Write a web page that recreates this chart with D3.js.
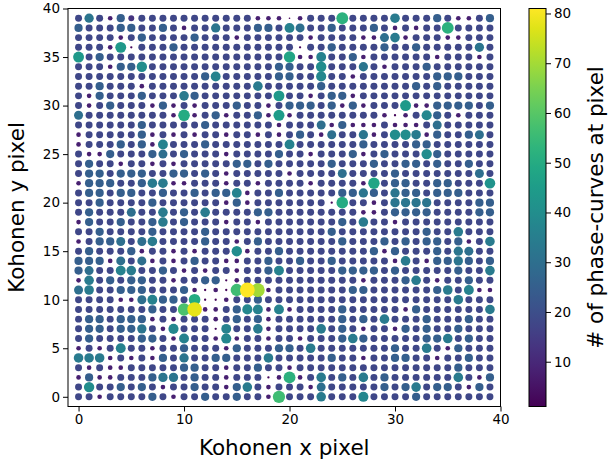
<!DOCTYPE html>
<html>
<head>
<meta charset="utf-8">
<script src="https://cdn.jsdelivr.net/npm/d3@7"></script>
<style>
  html, body { margin: 0; padding: 0; background: #fff; }
  svg { display: block; font-family: "DejaVu Sans", sans-serif; }
</style>
</head>
<body>
<svg id="chart" width="608" height="463"></svg>
<script>
// Kohonen map: number of phase-curves assigned to each pixel of a 40x40 grid.
// Rows run from y = 39 (first) down to y = 0 (last); columns are x = 0..39.
const xPixels = d3.range(40);
const yPixels = d3.range(39, -1, -1);

const countsByRow = [
  [18,32,18,8,25,13,18,18,18,18,18,18,18, 18,18,18,18,8,8,8,1,8,18,18,18,52, 18,18,18,18,34,18,18,18,25,18,8,8,18,25],
  [25,18,18,18,25,25,18,18,25,18,8,18,18, 32,18,18,18,25,25,18,36,30,18,18,25,18, 18,18,25,18,8,18,8,18,18,52,18,18,18,18],
  [18,18,18,18,8,18,25,18,18,18,18,25,18, 18,18,8,18,18,18,18,18,18,8,18,18,18, 18,8,8,30,34,8,18,18,18,8,8,18,18,18],
  [18,18,18,8,44,2,18,18,18,25,18,18,18, 18,18,18,18,18,18,18,18,2,18,18,25,18, 18,18,18,25,18,18,25,18,18,18,18,18,32,18],
  [44,18,25,18,18,18,18,18,18,18,18,18,18, 18,18,18,18,18,18,18,48,8,8,36,18,18, 25,8,18,18,18,18,18,18,8,18,18,18,8,18],
  [18,18,18,8,25,25,40,18,18,18,18,18,18, 18,18,18,18,18,18,25,25,18,18,40,18,18, 18,32,18,8,18,18,18,25,18,18,18,18,18,18],
  [18,18,18,18,18,18,18,18,18,18,18,18,25, 36,18,18,18,18,18,25,25,18,18,38,18,18, 8,18,18,18,18,18,18,18,25,25,25,18,18,18],
  [18,18,25,18,18,18,8,18,18,18,18,18,18, 18,18,18,18,34,18,18,18,18,18,25,18,18, 18,18,18,18,18,18,25,18,25,18,18,18,18,18],
  [18,8,25,18,18,18,25,18,18,18,34,25,18, 18,18,18,18,18,18,44,18,18,8,18,25,25, 8,18,18,18,18,18,18,18,18,18,18,18,18,18],
  [18,8,18,25,18,18,18,8,25,8,18,8,18, 18,18,25,18,18,8,18,25,25,25,18,25,8, 25,8,18,18,18,44,8,8,25,25,25,25,18,25],
  [30,18,18,18,18,18,18,18,18,8,50,8,18, 25,8,18,18,25,8,45,8,18,18,18,18,18, 18,18,18,8,2,8,18,38,25,18,8,18,18,18],
  [18,18,18,18,18,18,25,18,18,18,18,18,25, 18,18,18,18,18,18,8,18,18,18,30,8,25, 8,8,8,18,8,8,8,18,30,18,18,18,18,18],
  [8,18,18,18,18,18,25,8,18,8,18,8,18, 18,8,18,18,8,18,8,18,25,18,8,30,18, 18,32,8,18,40,40,34,8,25,18,18,25,30,18],
  [8,18,18,18,25,18,25,8,36,18,18,18,25, 18,18,18,18,18,18,18,36,18,18,18,18,18, 18,25,18,18,18,18,25,25,18,18,18,18,18,18],
  [18,8,8,25,18,18,18,25,30,18,25,18,18, 18,8,18,18,18,18,25,18,18,8,18,18,18, 25,8,18,25,18,18,18,40,25,18,18,18,18,18],
  [18,25,18,18,8,18,18,8,18,8,18,18,18, 18,18,25,25,18,25,18,18,18,18,18,25,18, 18,18,25,18,18,25,25,18,25,18,18,25,18,18],
  [18,25,25,18,25,25,25,18,18,25,25,18,25, 18,8,18,18,18,18,18,8,18,18,18,18,30, 18,18,18,18,25,18,18,18,18,18,18,18,30,18],
  [8,25,25,25,18,18,25,34,34,8,8,18,18, 18,8,18,18,8,18,18,18,18,8,18,18,18, 18,8,48,18,25,25,18,18,25,25,18,18,18,42],
  [18,25,25,18,25,25,18,18,25,18,18,25,18, 25,25,36,8,18,18,25,18,18,18,18,18,25, 25,32,25,18,32,25,25,18,25,25,25,18,18,18],
  [18,18,25,18,18,18,18,25,18,18,18,18,18, 18,8,25,8,18,18,18,18,18,18,18,2,50, 18,18,8,18,32,32,32,32,18,18,18,18,25,25],
  [18,25,18,18,18,30,18,18,34,18,25,18,34, 18,18,18,18,25,25,18,18,18,18,18,18,18, 18,8,8,18,25,25,25,25,18,18,18,18,25,25],
  [8,25,18,18,25,18,18,25,34,18,25,18,18, 18,8,18,18,8,18,18,18,18,18,18,18,25, 18,34,18,18,8,18,18,18,18,18,18,18,18,18],
  [18,18,25,18,18,18,18,25,18,18,18,18,25, 18,18,18,18,18,18,18,18,18,18,18,25,18, 18,18,18,18,18,18,18,25,18,18,34,18,18,18],
  [8,18,25,25,30,18,30,34,18,18,18,18,25, 18,18,8,18,25,18,18,18,18,18,18,18,25, 18,18,18,25,18,25,18,25,25,18,25,8,18,34],
  [18,25,18,18,18,25,8,18,18,8,18,8,18, 18,18,40,8,18,18,25,18,18,18,18,18,18, 18,18,25,8,25,18,18,18,25,18,32,30,18,18],
  [25,25,25,8,30,18,30,8,18,8,18,25,18, 18,8,8,18,18,25,18,18,25,18,18,25,18, 18,18,18,18,8,34,18,8,25,25,32,25,18,25],
  [25,30,18,18,36,34,18,18,25,18,8,18,8, 18,18,8,18,18,25,36,18,18,18,18,18,25, 25,25,25,18,25,18,18,18,18,18,25,18,18,34],
  [8,34,18,25,18,25,25,18,18,8,18,18,25, 25,2,8,18,18,18,18,18,18,18,18,18,18, 18,8,18,18,18,25,34,18,8,18,18,25,18,18],
  [30,34,18,18,25,25,25,18,18,18,25,8,2, 8,2,56,81,70,8,18,18,18,18,18,18,18, 25,25,18,18,18,18,18,18,25,34,18,36,8,8],
  [18,18,18,18,8,8,30,36,25,25,18,50,2, 2,8,18,18,25,18,18,18,18,18,18,18,18, 18,18,18,18,18,18,18,18,18,18,34,18,18,18],
  [18,18,18,18,18,18,18,25,18,18,58,78,8, 8,18,25,38,36,8,36,8,18,18,18,18,25, 18,18,18,18,18,8,25,18,18,18,18,18,18,34],
  [18,25,25,18,25,25,25,8,18,8,18,18,18, 8,18,25,18,25,8,18,18,18,18,18,18,25, 18,25,18,34,18,18,18,25,18,18,18,25,18,18],
  [18,25,25,18,25,25,32,18,8,38,18,18,18, 2,36,18,18,34,8,18,18,18,18,34,18,25, 18,8,18,18,8,25,18,25,18,18,25,18,18,18],
  [18,25,18,18,18,18,25,25,18,8,36,18,18, 8,38,8,18,18,8,18,18,8,18,18,18,25, 34,25,18,18,18,18,18,25,25,34,18,25,18,18],
  [8,18,8,18,36,18,18,8,18,18,25,18,18, 18,8,25,18,18,18,25,25,18,34,18,18,18, 18,18,18,18,25,18,18,34,18,8,25,18,18,18],
  [34,34,34,8,18,8,18,8,25,18,32,18,18, 25,25,18,18,18,34,18,18,18,18,18,25,18, 18,8,18,18,25,25,18,18,8,18,18,25,18,18],
  [18,8,18,8,8,18,18,18,18,18,25,25,18, 18,8,18,18,25,18,18,8,18,18,18,18,18, 18,18,18,18,18,18,18,18,18,18,25,18,18,18],
  [8,25,8,8,18,18,18,25,32,32,18,25,18, 18,8,18,18,18,2,8,52,8,18,34,18,25, 18,34,18,25,18,18,18,18,18,18,34,18,8,25],
  [18,40,18,18,25,18,25,18,8,18,18,25,18, 18,8,25,34,18,8,18,18,18,8,30,18,18, 18,18,18,25,18,25,34,18,25,25,18,8,25,18],
  [18,18,8,18,18,18,18,25,18,8,18,18,25, 18,18,25,18,18,8,56,18,18,18,34,18,18, 18,38,18,18,18,18,25,18,18,18,18,18,18,18]
];

const xTicks = [0, 10, 20, 30, 40];
const yTicks = [0, 5, 10, 15, 20, 25, 30, 35, 40];
const colorTicks = [10, 20, 30, 40, 50, 60, 70, 80];
const colorRange = [1, 81];

const xLabel = "Kohonen x pixel";
const yLabel = "Kohonen y pixel";
const colorLabel = "# of phase-curves at pixel";

// Flatten the grid into one record per pixel.
const points = [];
yPixels.forEach((y, r) => {
  xPixels.forEach((x, c) => {
    points.push({ x, y, n: countsByRow[r][c] });
  });
});
points.sort((a, b) => a.n - b.n);

const svg = d3.select("#chart");
const plot = { left: 68, right: 500.5, top: 8.5, bottom: 406.5 };

const x = d3.scaleLinear().domain([-1, 40]).range([plot.left, plot.right]);
const y = d3.scaleLinear().domain([-1, 40]).range([plot.bottom, plot.top]);
const color = d3.scaleSequential(d3.interpolateViridis).domain(colorRange);
// marker area proportional to the count
const radius = d3.scaleSqrt().domain([0, 81]).range([0, 7.4]);

svg.append("g")
  .selectAll("circle")
  .data(points)
  .join("circle")
  .attr("cx", d => x(d.x))
  .attr("cy", d => y(d.y))
  .attr("r", d => radius(d.n))
  .attr("fill", d => color(d.n));

// axes frame
svg.append("rect")
  .attr("x", plot.left).attr("y", plot.top)
  .attr("width", plot.right - plot.left).attr("height", plot.bottom - plot.top)
  .attr("fill", "none").attr("stroke", "#000").attr("stroke-width", 1);

const xAxis = svg.append("g")
  .attr("transform", `translate(0,${plot.bottom})`)
  .call(d3.axisBottom(x).tickValues(xTicks).tickSize(5).tickPadding(3));
const yAxis = svg.append("g")
  .attr("transform", `translate(${plot.left},0)`)
  .call(d3.axisLeft(y).tickValues(yTicks).tickSize(5).tickPadding(3));
[xAxis, yAxis].forEach(g => {
  g.select(".domain").remove();
  g.selectAll("text").attr("font-size", 13.5).attr("font-family", "DejaVu Sans").attr("fill", "#000");
  g.selectAll("line").attr("stroke", "#000");
});

svg.append("text")
  .attr("x", (plot.left + plot.right) / 2).attr("y", 455)
  .attr("text-anchor", "middle").attr("font-size", 21.5).attr("fill", "#000")
  .text(xLabel);
svg.append("text")
  .attr("transform", `translate(24,${(plot.top + plot.bottom) / 2}) rotate(-90)`)
  .attr("text-anchor", "middle").attr("font-size", 21.5).attr("fill", "#000")
  .text(yLabel);

// colour bar
const cb = { left: 529, width: 17 };
const cbScale = d3.scaleLinear().domain(colorRange).range([plot.bottom, plot.top]);
const defs = svg.append("defs");
const grad = defs.append("linearGradient").attr("id", "viridisBar")
  .attr("x1", 0).attr("y1", 1).attr("x2", 0).attr("y2", 0);
d3.range(0, 1.0001, 0.05).forEach(t => {
  grad.append("stop").attr("offset", t).attr("stop-color", d3.interpolateViridis(t));
});
svg.append("rect")
  .attr("x", cb.left).attr("y", plot.top)
  .attr("width", cb.width).attr("height", plot.bottom - plot.top)
  .attr("fill", "url(#viridisBar)").attr("stroke", "#000").attr("stroke-width", 1);

const cAxis = svg.append("g")
  .attr("transform", `translate(${cb.left + cb.width},0)`)
  .call(d3.axisRight(cbScale).tickValues(colorTicks).tickSize(5).tickPadding(3));
cAxis.select(".domain").remove();
cAxis.selectAll("text").attr("font-size", 13.5).attr("font-family", "DejaVu Sans").attr("fill", "#000");
cAxis.selectAll("line").attr("stroke", "#000");

svg.append("text")
  .attr("transform", `translate(603,${(plot.top + plot.bottom) / 2}) rotate(-90)`)
  .attr("text-anchor", "middle").attr("font-size", 21.5).attr("fill", "#000")
  .text(colorLabel);
</script>
</body>
</html>
